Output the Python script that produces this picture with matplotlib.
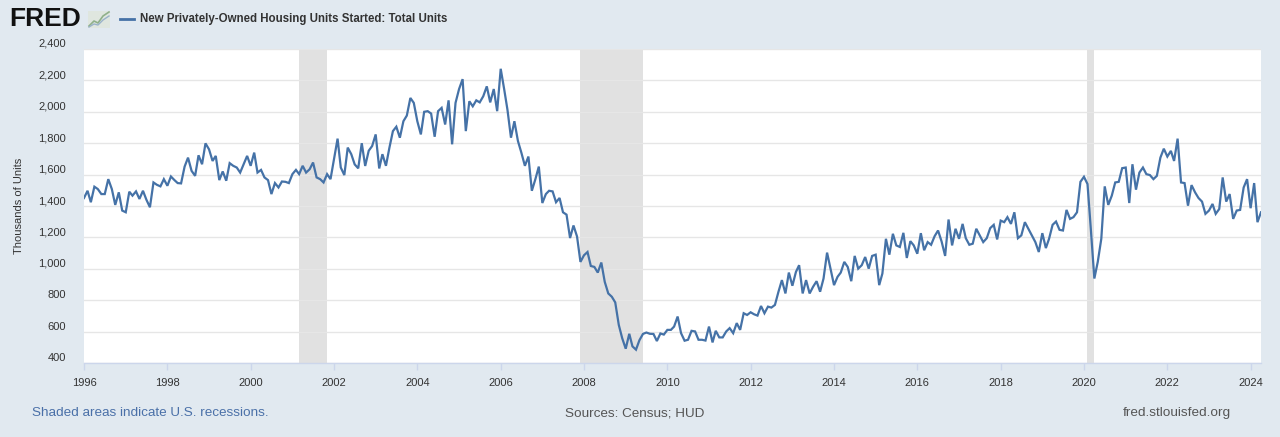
import matplotlib
matplotlib.use("Agg")
import matplotlib.pyplot as plt
import matplotlib.dates as mdates
from matplotlib.ticker import FuncFormatter, FixedLocator
from matplotlib.lines import Line2D
from matplotlib.patches import Rectangle
from matplotlib.transforms import ScaledTranslation
import pandas as pd
import numpy as np

# ---- data (thousands of units, SAAR, monthly) ----
y1996 = [1451, 1497, 1424, 1523, 1508, 1476, 1476, 1571, 1508, 1407, 1487, 1371]
y1997 = [1360, 1491, 1466, 1493, 1445, 1497, 1440, 1392, 1550, 1535, 1525, 1571]
y1998 = [1529, 1588, 1567, 1546, 1544, 1651, 1708, 1624, 1592, 1723, 1666, 1799]
y1999 = [1761, 1687, 1719, 1565, 1620, 1561, 1673, 1656, 1645, 1613, 1666, 1719]
y2000 = [1656, 1740, 1613, 1630, 1582, 1565, 1476, 1546, 1518, 1556, 1554, 1546]
y2001 = [1603, 1630, 1603, 1656, 1613, 1634, 1677, 1582, 1571, 1550, 1603, 1571]
y2002 = [1698, 1829, 1645, 1597, 1772, 1730, 1665, 1640, 1800, 1655, 1752, 1782]
y2003 = [1856, 1639, 1730, 1656, 1770, 1877, 1905, 1835, 1940, 1976, 2088, 2057]
y2004 = [1940, 1856, 2000, 2004, 1989, 1841, 2004, 2025, 1919, 2073, 1793, 2057]
y2005 = [2145, 2208, 1877, 2067, 2035, 2073, 2060, 2099, 2162, 2060, 2145, 2004]
y2006 = [2274, 2141, 2014, 1835, 1940, 1814, 1740, 1656, 1715, 1497, 1571, 1651]
y2007 = [1419, 1476, 1497, 1493, 1424, 1451, 1360, 1345, 1196, 1276, 1206, 1044]
y2008 = [1086, 1107, 1018, 1012, 976, 1040, 917, 843, 822, 786, 643, 558]
y2009 = [491, 586, 506, 485, 545, 585, 594, 586, 585, 540, 588, 581]
y2010 = [611, 611, 632, 696, 590, 542, 548, 605, 601, 548, 548, 543]
y2011 = [632, 531, 605, 563, 563, 601, 622, 590, 654, 611, 717, 706]
y2012 = [723, 710, 702, 763, 717, 759, 753, 770, 854, 928, 843, 976]
y2013 = [892, 980, 1023, 843, 928, 843, 885, 921, 854, 938, 1103, 1001]
y2014 = [896, 949, 976, 1044, 1012, 921, 1082, 1001, 1023, 1075, 1001, 1082]
y2015 = [1090, 896, 970, 1191, 1090, 1223, 1149, 1139, 1229, 1069, 1176, 1149]
y2016 = [1096, 1227, 1118, 1170, 1153, 1208, 1244, 1174, 1082, 1314, 1149, 1255]
y2017 = [1191, 1286, 1195, 1153, 1160, 1255, 1213, 1170, 1195, 1259, 1280, 1187]
y2018 = [1307, 1297, 1329, 1286, 1360, 1195, 1213, 1297, 1255, 1213, 1170, 1107]
y2019 = [1227, 1132, 1191, 1280, 1301, 1248, 1244, 1375, 1318, 1329, 1360, 1554]
y2020 = [1586, 1540, 1255, 938, 1044, 1191, 1525, 1407, 1466, 1550, 1554, 1641]
y2021 = [1645, 1419, 1666, 1504, 1613, 1645, 1603, 1597, 1571, 1592, 1708, 1765]
y2022 = [1715, 1751, 1687, 1829, 1550, 1546, 1402, 1533, 1487, 1451, 1428, 1350]
y2023 = [1371, 1413, 1350, 1381, 1582, 1428, 1476, 1318, 1371, 1375, 1518, 1571]
y2024 = [1386, 1546, 1297, 1360]

start_month = "1996-01-01"
recession_starts = ["2001-03-01", "2007-12-01", "2020-02-01"]
recession_ends = ["2001-11-01", "2009-06-01", "2020-04-01"]
y_ticks = [400, 600, 800, 1000, 1200, 1400, 1600, 1800, 2000, 2200, 2400]
x_tick_years = list(range(1996, 2025, 2))

series_title = "New Privately-Owned Housing Units Started: Total Units"
y_label = "Thousands of Units"

values = (y1996 + y1997 + y1998 + y1999 + y2000 + y2001 + y2002 + y2003 + y2004 +
          y2005 + y2006 + y2007 + y2008 + y2009 + y2010 + y2011 + y2012 + y2013 +
          y2014 + y2015 + y2016 + y2017 + y2018 + y2019 + y2020 + y2021 + y2022 +
          y2023 + y2024)
dates = pd.date_range(start_month, periods=len(values), freq="MS")

# ---- styling ----
BG = "#e1e9f0"
LINE = "#4572a7"
TXT = "#333333"
plt.rcParams["font.family"] = ["Liberation Sans", "DejaVu Sans"]

fig = plt.figure(figsize=(12.8, 4.37), dpi=100, facecolor=BG)
W, H = 1280, 437
L, R, T, B = 84, 1261, 49, 363
ax = fig.add_axes([L / W, 1 - B / H, (R - L) / W, (B - T) / H])
ax.set_facecolor("white")

for s, e in zip(recession_starts, recession_ends):
    ax.axvspan(pd.Timestamp(s), pd.Timestamp(e), color="#e1e1e1", lw=0, zorder=1)

ax.plot(dates, values, color=LINE, lw=1.6, zorder=3, solid_joinstyle="miter")

ax.set_xlim(pd.Timestamp(start_month), dates[-1])
ax.set_ylim(400, 2400)
ax.yaxis.set_major_locator(FixedLocator(y_ticks))
ax.yaxis.set_major_formatter(FuncFormatter(lambda v, p: f"{int(v):,}"))
ax.set_xticks([pd.Timestamp(f"{y}-01-01") for y in x_tick_years])
ax.xaxis.set_major_formatter(mdates.DateFormatter("%Y"))
ax.grid(axis="y", color="#e6e6e6", lw=1, zorder=0)
for sp in ["top", "right", "left"]:
    ax.spines[sp].set_visible(False)
ax.spines["bottom"].set_color("#ccd6eb")
ax.spines["bottom"].set_linewidth(1)
ax.tick_params(axis="y", length=0, pad=13, labelsize=8, labelcolor=TXT)
ax.tick_params(axis="x", length=5, width=1, color="#ccd6eb", pad=6, labelsize=8, labelcolor=TXT)
ax.set_ylabel(y_label, fontsize=8, color=TXT, labelpad=10)

# y labels sit slightly above their gridlines, as in FRED
shift = ScaledTranslation(0, 0.06, fig.dpi_scale_trans)
for lab in ax.get_yticklabels():
    lab.set_transform(lab.get_transform() + shift)

# ---- header ----
fig.text(9 / W, 1 - 19.5 / H, "FRED", fontsize=19, fontweight="bold", color="#111111",
         va="center", ha="left")
# small logo icon
fig.add_artist(Rectangle((88 / W, 1 - 28 / H), 22 / W, 17 / H, color="#dfe6df", lw=0))
icon_x = np.array([89, 94, 98, 103, 109]) / W
icon_y1 = 1 - np.array([26, 21, 23, 16, 12]) / H
icon_y2 = 1 - np.array([27, 24, 25, 20, 16]) / H
fig.add_artist(Line2D(icon_x, icon_y1, color="#8fb08a", lw=1.2))
fig.add_artist(Line2D(icon_x, icon_y2, color="#9ab3c9", lw=1.0))
fig.add_artist(Line2D([120 / W, 134 / W], [1 - 19 / H, 1 - 19 / H], color=LINE, lw=2))
fig.text(140 / W, 1 - 19 / H, series_title, fontsize=8.3, fontweight="bold", color=TXT,
         va="center", ha="left")

# ---- footer ----
fig.text(32 / W, 1 - 413 / H, "Shaded areas indicate U.S. recessions.", fontsize=9.7,
         color="#4a70a8", va="center", ha="left")
fig.text(635 / W, 1 - 413 / H, "Sources: Census; HUD", fontsize=9.7, color="#555555",
         va="center", ha="center")
fig.text(1231 / W, 1 - 413 / H, "fred.stlouisfed.org", fontsize=9.7, color="#555555",
         va="center", ha="right")

fig.savefig("out.png", dpi=100, facecolor=BG)
